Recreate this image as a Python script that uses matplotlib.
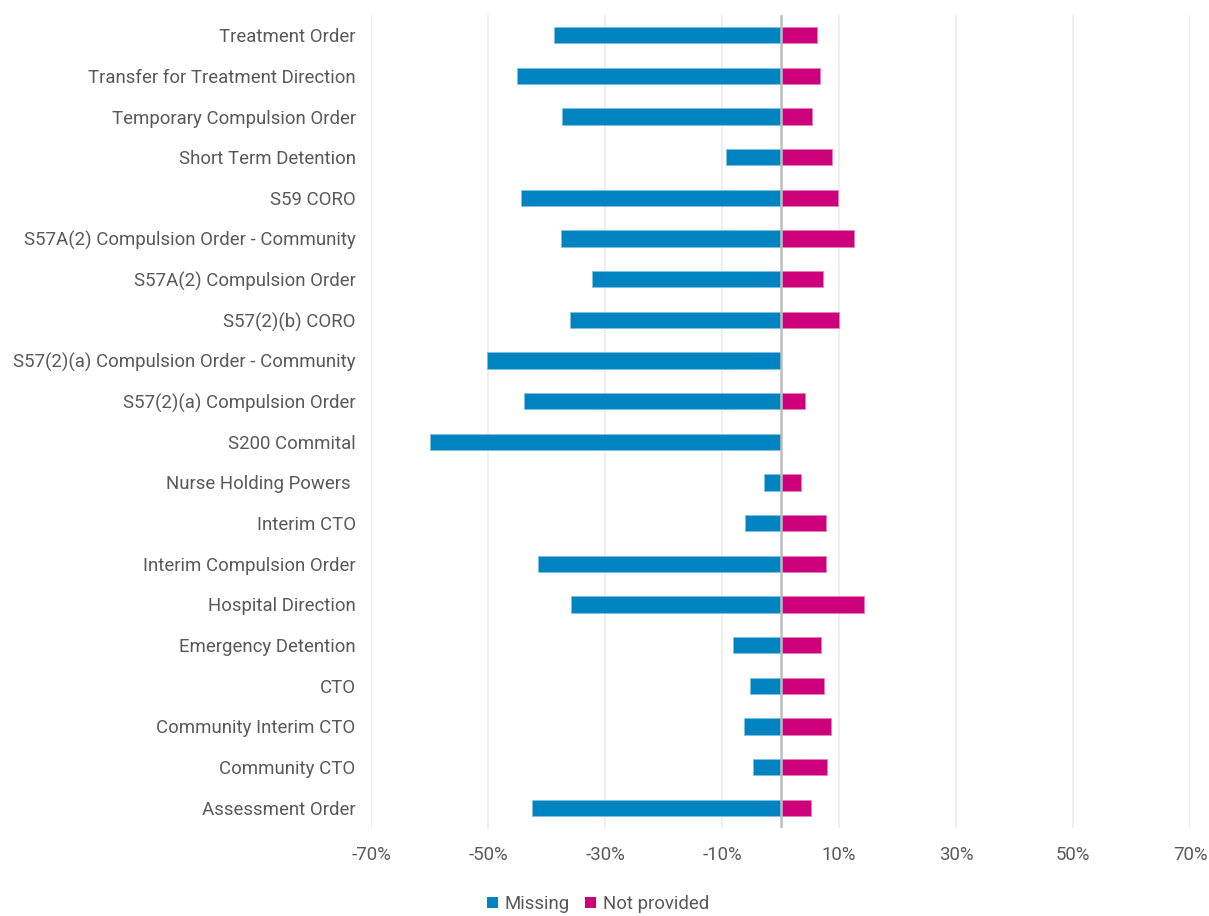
import matplotlib
matplotlib.use("Agg")
import matplotlib.pyplot as plt
from matplotlib.patches import Patch
from matplotlib.ticker import FuncFormatter

categories = [
    "Treatment Order",
    "Transfer for Treatment Direction",
    "Temporary Compulsion Order",
    "Short Term Detention",
    "S59 CORO",
    "S57A(2) Compulsion Order - Community",
    "S57A(2) Compulsion Order",
    "S57(2)(b) CORO",
    "S57(2)(a) Compulsion Order - Community",
    "S57(2)(a) Compulsion Order",
    "S200 Commital",
    "Nurse Holding Powers ",
    "Interim CTO",
    "Interim Compulsion Order",
    "Hospital Direction",
    "Emergency Detention",
    "CTO",
    "Community Interim CTO",
    "Community CTO",
    "Assessment Order",
]
missing = [-38.7, -45.1, -37.4, -9.4, -44.4, -37.5, -32.2, -36.0, -50.1, -43.8,
           -60.0, -2.9, -6.1, -41.5, -35.8, -8.1, -5.2, -6.2, -4.7, -42.4]
not_provided = [6.3, 6.8, 5.3, 8.8, 9.8, 12.5, 7.3, 10.0, 0.0, 4.2,
                0.0, 3.5, 7.7, 7.8, 14.2, 7.0, 7.4, 8.7, 7.9, 5.2]
xticks = [-70, -50, -30, -10, 10, 30, 50, 70]
series_names = ["Missing", "Not provided"]

BLUE = "#0083C1"
MAGENTA = "#CC007A"
TEXT = "#595959"
FS = 13.4

plt.rcParams["font.family"] = ["Roboto", "DejaVu Sans"]

fig = plt.figure(figsize=(12.09, 9.16), dpi=100)
ax = fig.add_axes([371 / 1209, 1 - 828 / 916, (1190 - 371) / 1209, (828 - 15) / 916])

y = list(range(len(categories)))
ax.barh(y, missing, height=0.4, color=BLUE, edgecolor="#7fc0e0", linewidth=0.6, zorder=3)
ax.barh(y, not_provided, height=0.4, color=MAGENTA, edgecolor="#e680bc", linewidth=0.6, zorder=3)

ax.set_xlim(-70, 70)
ax.set_ylim(len(categories) - 0.5, -0.5)
ax.set_xticks(xticks)
ax.xaxis.set_major_formatter(FuncFormatter(lambda v, p: f"{int(round(v))}%"))
ax.set_yticks(y)
ax.set_yticklabels(categories)

ax.grid(axis="x", color="#EBEBEB", linewidth=1.2, zorder=0)
ax.axvline(0, color="#BDBDBD", linewidth=1.8, zorder=4)
for s in ax.spines.values():
    s.set_visible(False)
ax.tick_params(axis="both", length=0, colors=TEXT, labelsize=FS)
ax.tick_params(axis="y", pad=11)
ax.tick_params(axis="x", pad=13)

handles = [Patch(facecolor=BLUE), Patch(facecolor=MAGENTA)]
fig.legend(handles, series_names, loc="center", bbox_to_anchor=(598 / 1209, 1 - 904 / 916),
           ncol=2, frameon=False, fontsize=FS, handlelength=0.6, handleheight=0.6,
           handletextpad=0.35, columnspacing=0.8, labelcolor=TEXT, borderpad=0.1)

fig.savefig("out.png", dpi=100)
